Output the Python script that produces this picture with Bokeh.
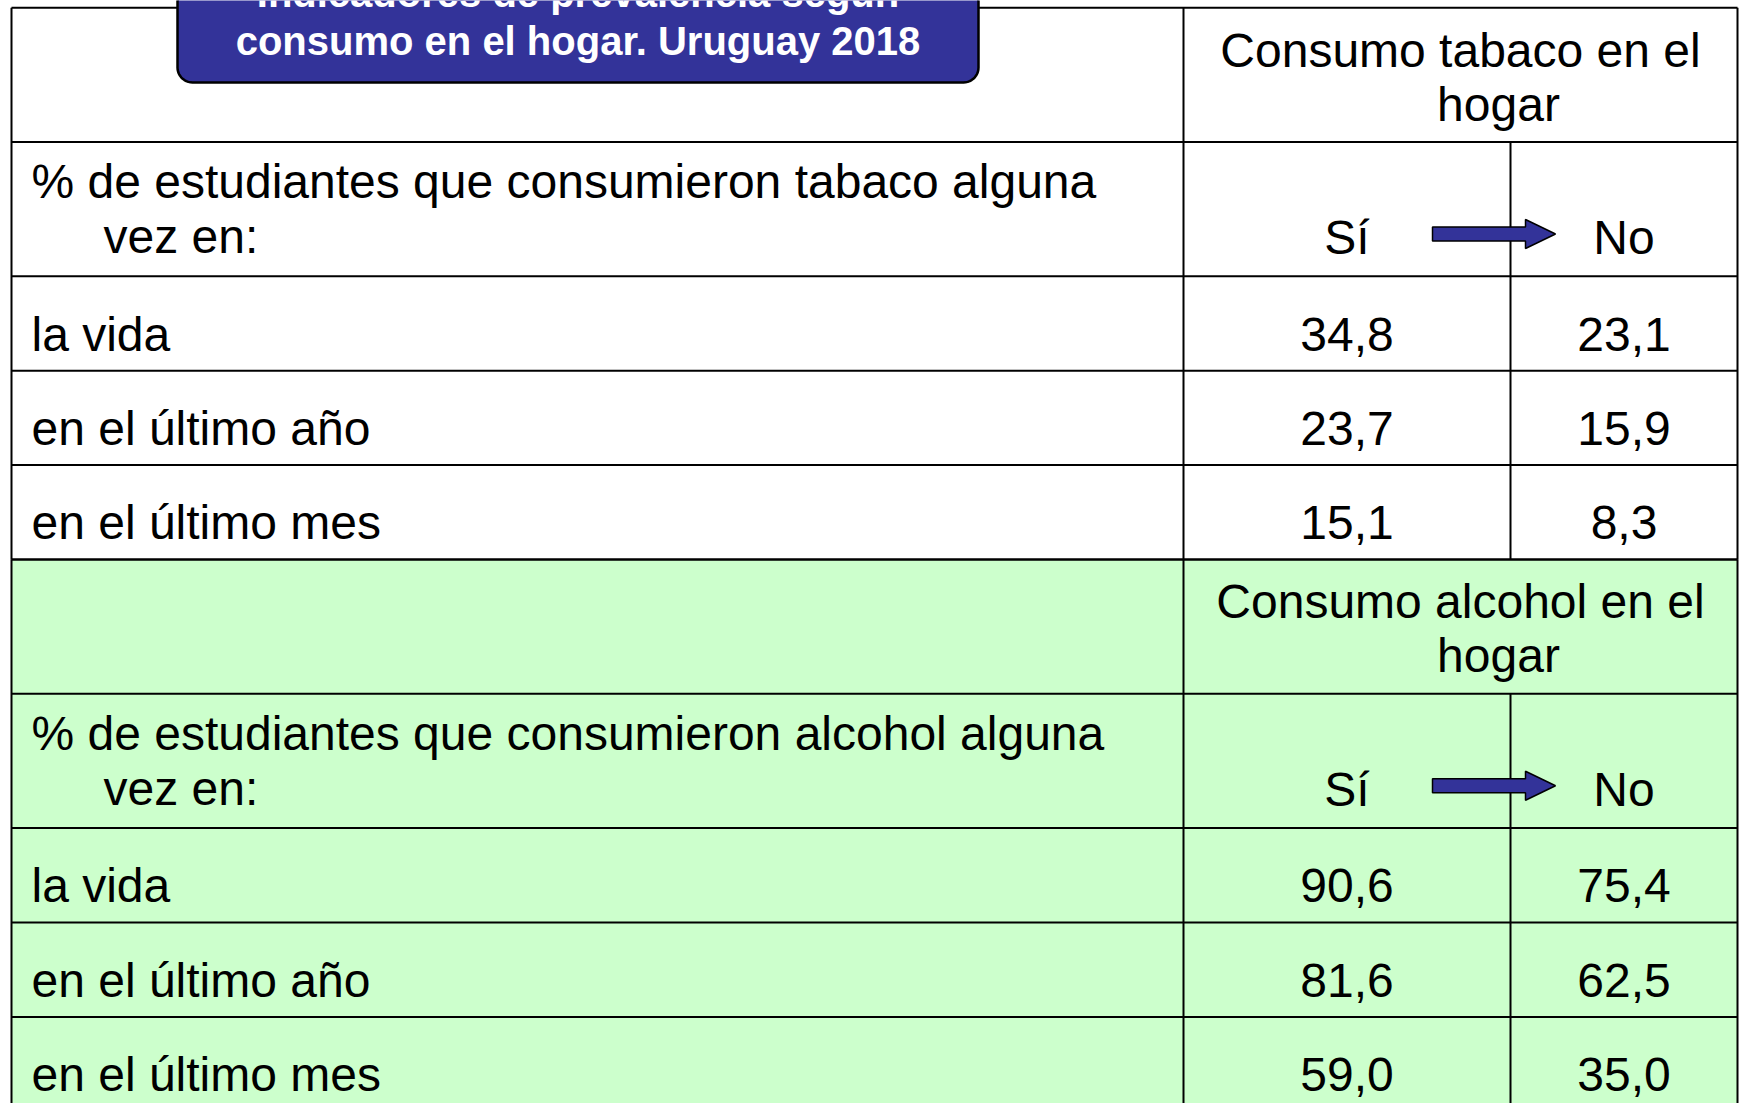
import numpy as np
from bokeh.plotting import figure
from bokeh.models import Range1d
from bokeh.core.properties import value
from bokeh.embed import file_html
from bokeh.resources import INLINE

# ---------------- data ----------------
title_lines = ["Indicadores de prevalencia según", "consumo en el hogar. Uruguay 2018"]
row_labels = ["la vida", "en el último año", "en el último mes"]
col_labels = ["Sí", "No"]
tabaco_header = ["Consumo tabaco en el", "hogar"]
alcohol_header = ["Consumo alcohol en el", "hogar"]
tabaco_question = ["% de estudiantes que consumieron tabaco alguna", "vez en:"]
alcohol_question = ["% de estudiantes que consumieron alcohol alguna", "vez en:"]
tabaco_si = [34.8, 23.7, 15.1]
tabaco_no = [23.1, 15.9, 8.3]
alcohol_si = [90.6, 81.6, 59.0]
alcohol_no = [75.4, 62.5, 35.0]

# ---------------- layout / style ----------------
W, H = 1739, 1103
FONT = "Liberation Sans"
BODY_PX = 48
TITLE_PX = 40
BLUE = "#333399"
GREEN = "#CCFFCC"

X_LEFT, X_SPLIT, X_MID, X_RIGHT = 11, 1183, 1510, 1737
TOP = 7.2
HEAD_H = 134.3
ROW_H = 94.4
LABEL_X = 31
INDENT_X = 103
LW = 2
MID_SHIFT = 0.3465  # svg backend draws the given y at the text's middle

p = figure(width=W, height=H, output_backend="svg", toolbar_location=None,
           x_range=Range1d(0, W), y_range=Range1d(H, 0),
           min_border=0, outline_line_color=None, background_fill_color="white")
p.xaxis.visible = False
p.yaxis.visible = False
p.grid.visible = False


def fmt(v):
    return f"{v:.1f}".replace(".", ",")


def txt(xs, ys, texts, align="left", px=BODY_PX, color="black", bold=False):
    ys = [y - MID_SHIFT * px for y in ys]  # ys are baselines
    p.text(x=xs, y=ys, text=texts, text_font=value(FONT),
           text_font_size=value(f"{px}px"), text_align=align,
           text_baseline="middle", text_color=color,
           text_font_style="bold" if bold else "normal")


hx0, hx1, hy0, hy1 = [], [], [], []
vx0, vx1, vy0, vy1 = [], [], [], []


def block(top, header, question, si, no, fill):
    y1 = top + HEAD_H
    y2 = y1 + HEAD_H
    edges = [top, y1, y2] + [y2 + ROW_H * (i + 1) for i in range(len(si))]
    bottom = edges[-1]
    if fill:
        p.quad(left=[X_LEFT], right=[X_RIGHT], top=[top], bottom=[bottom],
               fill_color=fill, line_color=None)
    for e in edges:
        hx0.append(X_LEFT); hx1.append(X_RIGHT); hy0.append(e); hy1.append(e)
    for x in (X_LEFT, X_SPLIT, X_RIGHT):
        vx0.append(x); vx1.append(x); vy0.append(top); vy1.append(bottom)
    vx0.append(X_MID); vx1.append(X_MID); vy0.append(y1); vy1.append(bottom)

    cx = (X_SPLIT + X_RIGHT) / 2
    txt([cx, cx + 38], [top + 59, top + 113], header, align="center")
    txt([LABEL_X, INDENT_X], [y1 + 56, y1 + 111], question)
    c_si = (X_SPLIT + X_MID) / 2
    c_no = (X_MID + X_RIGHT) / 2
    txt([c_si, c_no], [y1 + 112, y1 + 112], col_labels, align="center")

    base = [y2 + ROW_H * i + 74.4 for i in range(len(si))]
    txt([LABEL_X] * len(row_labels), base, row_labels)
    txt([c_si] * len(si), base, [fmt(v) for v in si], align="center")
    txt([c_no] * len(no), base, [fmt(v) for v in no], align="center")

    # arrow Sí -> No
    cy = y1 + 92
    ax0, ax1, tip = 1432, 1525, 1555
    sh, hh = 7, 14.5
    return ([ax0, ax1, ax1, tip, ax1, ax1, ax0],
            [cy - sh, cy - sh, cy - hh, cy, cy + hh, cy + sh, cy + sh]), bottom


arrow1, b1 = block(TOP, tabaco_header, tabaco_question, tabaco_si, tabaco_no, None)
arrow2, b2 = block(b1, alcohol_header, alcohol_question, alcohol_si, alcohol_no, GREEN)

p.segment(x0=hx0, y0=hy0, x1=hx1, y1=hy1, line_color="black", line_width=LW)
p.segment(x0=vx0, y0=vy0, x1=vx1, y1=vy1, line_color="black", line_width=LW)

for ax, ay in (arrow1, arrow2):
    p.patch(x=ax, y=ay, fill_color=BLUE, line_color="black", line_width=1.5)


# title box with rounded corners
def rounded_rect(x0, x1, y0, y1, r, n=12):
    xs, ys = [], []
    corners = [(x1 - r, y1 - r, 0, 90), (x0 + r, y1 - r, 90, 180),
               (x0 + r, y0 + r, 180, 270), (x1 - r, y0 + r, 270, 360)]
    for cx, cy, a0, a1 in corners:
        t = np.radians(np.linspace(a0, a1, n))
        xs.extend(cx + r * np.cos(t))
        ys.extend(cy + r * np.sin(t))
    return xs, ys


bx, by = rounded_rect(177, 978, -60, 82, 15)
p.patch(x=bx, y=by, fill_color=BLUE, line_color="black", line_width=2.5)
tcx = (177 + 978) / 2
txt([tcx, tcx], [6, 54], title_lines, align="center", px=TITLE_PX,
    color="white", bold=True)

open("out.html", "w").write(file_html(p, INLINE))
